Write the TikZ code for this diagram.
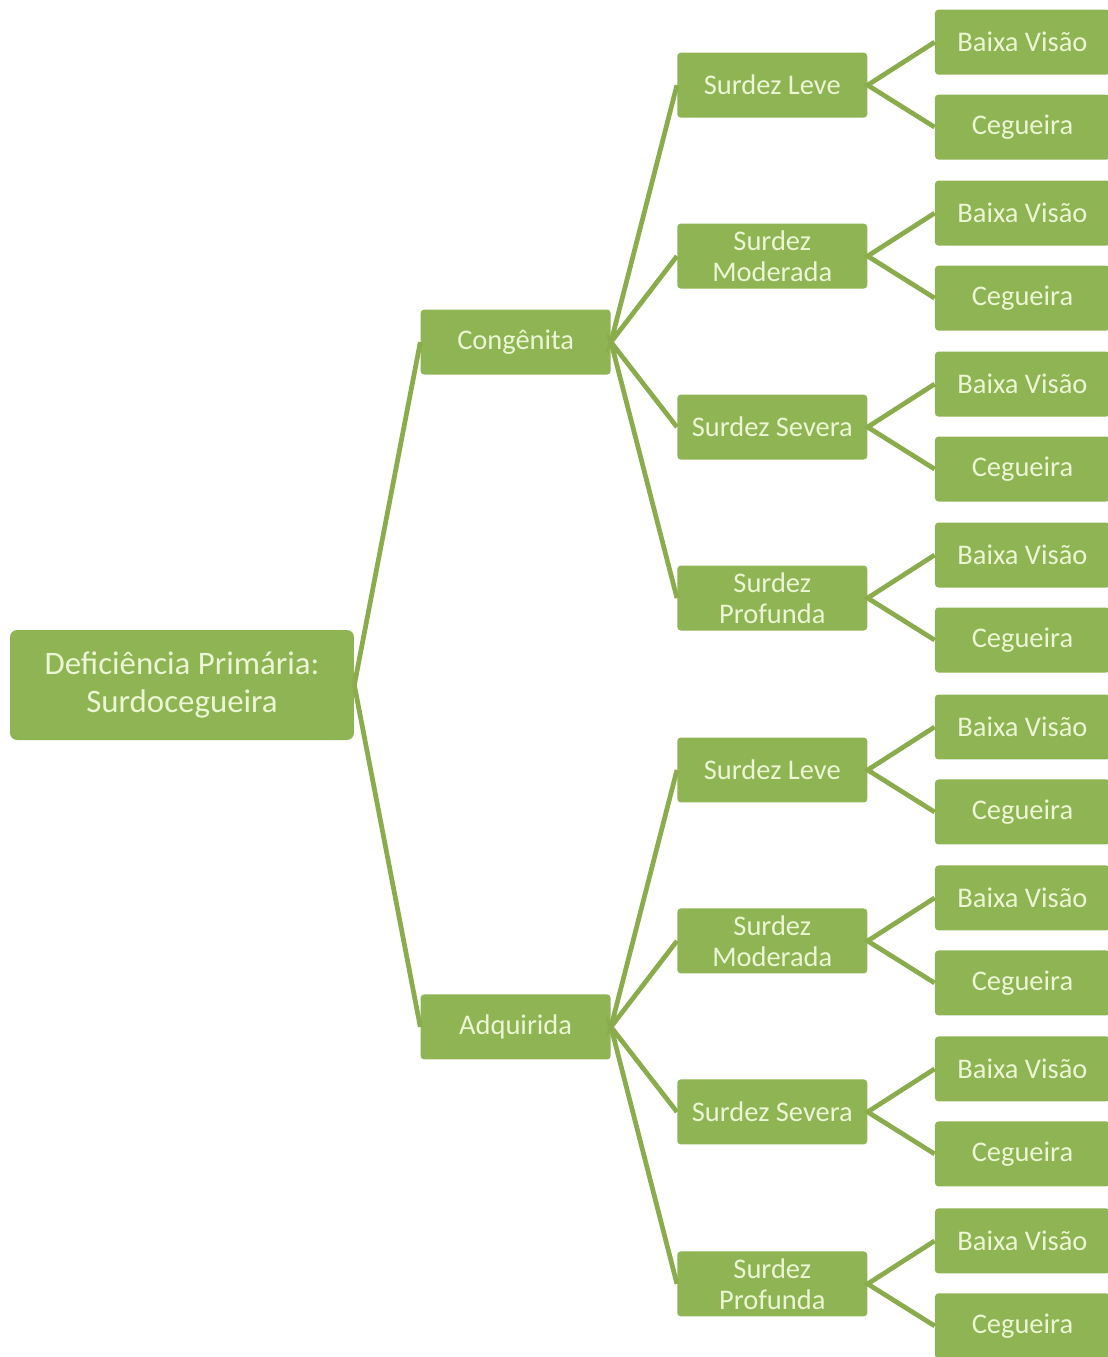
\documentclass[tikz,border=0pt]{standalone}
\usepackage{fontspec}
\setmainfont{Carlito}
\usepackage{tikz}
\usetikzlibrary{positioning}
\definecolor{boxgreen}{RGB}{142,180,84}
\definecolor{linegreen}{RGB}{138,172,76}
\definecolor{textgreen}{RGB}{236,245,212}
\tikzset{
	rootbox/.style={rectangle, fill=boxgreen, rounded corners=4pt, minimum width=6.88cm,
		minimum height=2.2cm, align=center, text=textgreen, font=\fontsize{18.7}{21.5}\selectfont},
	levelbox/.style={rectangle, fill=boxgreen, rounded corners=2pt, minimum width=3.8cm,
		minimum height=1.3cm, align=center, text=textgreen, inner sep=2pt,
		font=\fontsize{16.2}{17.6}\selectfont},
	leafbox/.style={levelbox, minimum width=3.5cm},
	branch/.style={draw=linegreen, line width=2.7pt}
}
\begin{document}
\begin{tikzpicture}[x=0.02cm, y=-0.02cm]
			\useasboundingbox (0,0) rectangle (1107,1357);
			\node[rootbox] (root) at (182,685) {Deficiência Primária:\\Surdocegueira};
			% first level
			\node[levelbox, right=1.32cm of root, yshift=6.86cm] (cong) {Congênita};
			\node[levelbox, right=1.32cm of root, yshift=-6.84cm] (adq) {Adquirida};
			% second level
			\node[levelbox, right=1.32cm of cong, yshift=5.14cm] (cleve) {Surdez Leve};
			\node[levelbox, right=1.32cm of cong, yshift=1.72cm] (cmod) {Surdez\\Moderada};
			\node[levelbox, right=1.32cm of cong, yshift=-1.70cm] (csev) {Surdez Severa};
			\node[levelbox, right=1.32cm of cong, yshift=-5.12cm] (cprof) {Surdez\\Profunda};
			\node[levelbox, right=1.32cm of adq, yshift=5.14cm] (aleve) {Surdez Leve};
			\node[levelbox, right=1.32cm of adq, yshift=1.72cm] (amod) {Surdez\\Moderada};
			\node[levelbox, right=1.32cm of adq, yshift=-1.70cm] (asev) {Surdez Severa};
			\node[levelbox, right=1.32cm of adq, yshift=-5.14cm] (aprof) {Surdez\\Profunda};
			% leaves
			\node[leafbox, right=1.34cm of cleve, yshift=0.86cm] (clevebv) {Baixa Visão};
			\node[leafbox, right=1.34cm of cleve, yshift=-0.84cm] (clevecg) {Cegueira};
			\node[leafbox, right=1.34cm of cmod, yshift=0.86cm] (cmodbv) {Baixa Visão};
			\node[leafbox, right=1.34cm of cmod, yshift=-0.84cm] (cmodcg) {Cegueira};
			\node[leafbox, right=1.34cm of csev, yshift=0.86cm] (csevbv) {Baixa Visão};
			\node[leafbox, right=1.34cm of csev, yshift=-0.84cm] (csevcg) {Cegueira};
			\node[leafbox, right=1.34cm of cprof, yshift=0.86cm] (cprofbv) {Baixa Visão};
			\node[leafbox, right=1.34cm of cprof, yshift=-0.84cm] (cprofcg) {Cegueira};
			\node[leafbox, right=1.34cm of aleve, yshift=0.86cm] (alevebv) {Baixa Visão};
			\node[leafbox, right=1.34cm of aleve, yshift=-0.84cm] (alevecg) {Cegueira};
			\node[leafbox, right=1.34cm of amod, yshift=0.86cm] (amodbv) {Baixa Visão};
			\node[leafbox, right=1.34cm of amod, yshift=-0.84cm] (amodcg) {Cegueira};
			\node[leafbox, right=1.34cm of asev, yshift=0.86cm] (asevbv) {Baixa Visão};
			\node[leafbox, right=1.34cm of asev, yshift=-0.84cm] (asevcg) {Cegueira};
			\node[leafbox, right=1.34cm of aprof, yshift=0.86cm] (aprofbv) {Baixa Visão};
			\node[leafbox, right=1.34cm of aprof, yshift=-0.84cm] (aprofcg) {Cegueira};
			% connectors
			\draw[branch] (cong.west) -- (root.east) -- (adq.west);
			\draw[branch] (cleve.west) -- (cong.east) -- (cmod.west) (csev.west) -- (cong.east) -- (cprof.west);
			\draw[branch] (aleve.west) -- (adq.east) -- (amod.west) (asev.west) -- (adq.east) -- (aprof.west);
			\draw[branch] (clevebv.west) -- (cleve.east) -- (clevecg.west);
			\draw[branch] (cmodbv.west) -- (cmod.east) -- (cmodcg.west);
			\draw[branch] (csevbv.west) -- (csev.east) -- (csevcg.west);
			\draw[branch] (cprofbv.west) -- (cprof.east) -- (cprofcg.west);
			\draw[branch] (alevebv.west) -- (aleve.east) -- (alevecg.west);
			\draw[branch] (amodbv.west) -- (amod.east) -- (amodcg.west);
			\draw[branch] (asevbv.west) -- (asev.east) -- (asevcg.west);
			\draw[branch] (aprofbv.west) -- (aprof.east) -- (aprofcg.west);
		\end{tikzpicture}
\end{document}
